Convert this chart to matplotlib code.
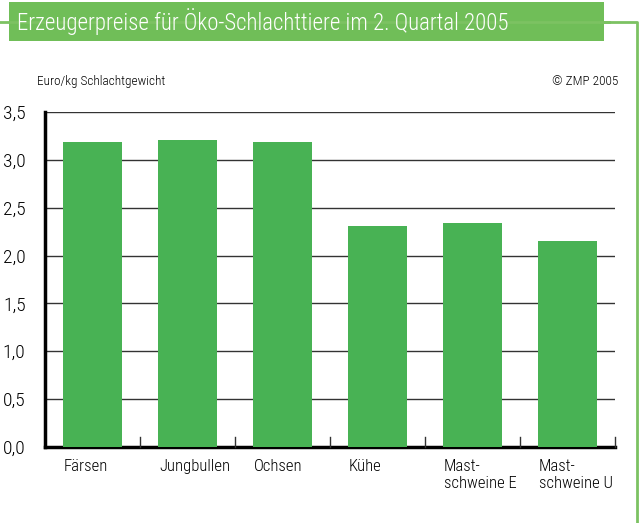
import matplotlib.pyplot as plt
from matplotlib.patches import Rectangle
from matplotlib.lines import Line2D

plt.rcParams['font.family'] = ['Roboto Condensed', 'DejaVu Sans']

categories = ["Färsen", "Jungbullen", "Ochsen", "Kühe", "Mast-\nschweine E", "Mast-\nschweine U"]
values = [3.19, 3.21, 3.19, 2.31, 2.34, 2.15]
yticks = [0.0, 0.5, 1.0, 1.5, 2.0, 2.5, 3.0, 3.5]
ytick_labels = ["0,0", "0,5", "1,0", "1,5", "2,0", "2,5", "3,0", "3,5"]

W, H = 639, 523
fig = plt.figure(figsize=(W / 100, H / 100), dpi=100)

bar_green = "#48b254"
head_green = "#70be58"
line_green = "#7cc262"

# frame line and title band
fig.add_artist(Line2D([0, 609 / W], [1 - 22 / H, 1 - 22 / H], color=line_green, lw=2))
fig.add_artist(Line2D([600 / W, 637 / W, 637 / W], [1 - 22 / H, 1 - 22 / H, 0], color=line_green, lw=2))
fig.add_artist(Rectangle((9 / W, 1 - 41 / H), 595 / W, 39 / H, color=head_green, lw=0))
fig.text(17 / W, 1 - 22 / H, "Erzeugerpreise für Öko-Schlachttiere im 2. Quartal 2005",
         color="white", fontsize=16.5, fontweight="light", va="center", ha="left")
fig.text(37 / W, 1 - 82 / H, "Euro/kg Schlachtgewicht", fontsize=9.5, fontweight="light",
         va="center", ha="left")
fig.text(618 / W, 1 - 82 / H, "© ZMP 2005", fontsize=9.5, fontweight="light",
         va="center", ha="right")

ax = fig.add_axes([45 / W, 1 - 447 / H, 570 / W, 335 / H])
x = list(range(len(categories)))
width = 0.62
ax.bar(x, values, width=width, color=bar_green, zorder=3)
ax.set_xlim(-0.5, len(categories) - 0.5)
ax.set_ylim(0, 3.5)
ax.set_yticks(yticks)
ax.set_yticklabels(ytick_labels, fontsize=14, fontweight="light")
for y in yticks[1:]:
    ax.axhline(y, color="#333333", lw=1, zorder=1)
ax.set_xticks([])
ax.tick_params(axis="y", length=0, pad=14)

# category labels left-aligned near the bar's left edge
for xi, lab in zip(x, categories):
    ax.text(xi - width / 2 + 0.01, -0.035, lab, transform=ax.get_xaxis_transform(),
            ha="left", va="top", fontsize=12, fontweight="light", linespacing=1.15)

# boundary ticks pointing up from the baseline
for b in [i + 0.5 for i in range(len(categories))]:
    ax.plot([b, b], [0, 0.1], color="#333333", lw=1, zorder=4, clip_on=False)

for s in ["top", "right"]:
    ax.spines[s].set_visible(False)
ax.spines["left"].set_linewidth(2.5)
ax.spines["bottom"].set_linewidth(2.5)

fig.savefig("out.png", dpi=100)
